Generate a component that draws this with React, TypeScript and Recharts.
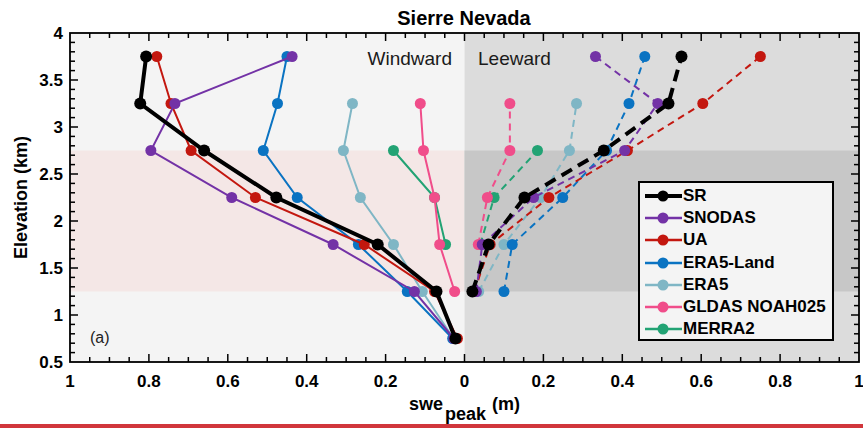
import React from 'react'
import { ScatterChart, Scatter, XAxis, YAxis, ReferenceArea, Legend, Label } from 'recharts'

const FONT = '"Liberation Sans", Arial, Helvetica, sans-serif'

// elevation bands (km), bottom to top
const ELEV = [0.75, 1.25, 1.75, 2.25, 2.75, 3.25, 3.75]

// windward peak SWE (m)
const windSR = [0.023, 0.071, 0.22, 0.477, 0.66, 0.822, 0.807]
const windSNODAS = [0.027, 0.127, 0.333, 0.59, 0.795, 0.734, 0.437]
const windUA = [0.018, 0.076, 0.254, 0.53, 0.693, 0.744, 0.78]
const windERA5Land = [0.03, 0.145, 0.269, 0.424, 0.51, 0.474, 0.45]
const windERA5 = [0.028, 0.107, 0.18, 0.264, 0.307, 0.284, null]
const windGLDAS = [null, 0.025, 0.063, 0.076, 0.104, 0.112, null]
const windMERRA2 = [null, null, 0.048, 0.076, 0.18, null, null]

// leeward peak SWE (m)
const leeSR = [null, 0.02, 0.061, 0.152, 0.353, 0.517, 0.55]
const leeSNODAS = [null, 0.03, 0.045, 0.175, 0.406, 0.49, 0.332]
const leeUA = [null, 0.025, 0.065, 0.214, 0.413, 0.604, 0.75]
const leeERA5Land = [null, 0.1, 0.121, 0.249, 0.36, 0.417, 0.457]
const leeERA5 = [null, 0.036, 0.1, 0.193, 0.266, 0.284, null]
const leeGLDAS = [null, null, 0.035, 0.058, 0.115, 0.115, null]
const leeMERRA2 = [null, null, 0.04, 0.075, 0.185, null, null]

// tick labels (x is distance from the divide on both sides)
const X_LABELS = [-1, -0.8, -0.6, -0.4, -0.2, 0, 0.2, 0.4, 0.6, 0.8, 1]
const Y_LABELS = [0.5, 1, 1.5, 2, 2.5, 3, 3.5, 4]
// inward tick marks every 0.05 m / 0.1 km
const X_TICKS = Array.from({ length: 39 }, (_, i) => Math.round((-0.95 + i * 0.05) * 100) / 100)
const Y_TICKS = Array.from({ length: 34 }, (_, i) => Math.round((0.6 + i * 0.1) * 10) / 10)

const series = [
  { name: 'SR', color: '#000000', wind: windSR, lee: leeSR, w: 4, dash: '12 7', r: 6 },
  { name: 'SNODAS', color: '#7332a6', wind: windSNODAS, lee: leeSNODAS, w: 2, dash: '7 5', r: 5.5 },
  { name: 'UA', color: '#c3170f', wind: windUA, lee: leeUA, w: 2, dash: '7 5', r: 5.5 },
  { name: 'ERA5-Land', color: '#0a73c2', wind: windERA5Land, lee: leeERA5Land, w: 2, dash: '7 5', r: 5.5 },
  { name: 'ERA5', color: '#7fb6c5', wind: windERA5, lee: leeERA5, w: 2, dash: '7 5', r: 5.5 },
  { name: 'GLDAS NOAH025', color: '#f04d8a', wind: windGLDAS, lee: leeGLDAS, w: 2, dash: '7 5', r: 5.5 },
  { name: 'MERRA2', color: '#22a374', wind: windMERRA2, lee: leeMERRA2, w: 2, dash: '7 5', r: 5.5 }
]

// background panels: windward / leeward, with the 1.25-2.75 km band shaded
const panels = [
  { x1: -1, x2: 0, y1: 0.5, y2: 4, fill: '#f4f4f4' },
  { x1: -1, x2: 0, y1: 1.25, y2: 2.75, fill: '#f4e7e6' },
  { x1: 0, x2: 1, y1: 0.5, y2: 4, fill: '#dcdcdc' },
  { x1: 0, x2: 1, y1: 1.25, y2: 2.75, fill: '#c7c7c7' }
]

const toPoints = (vals: (number | null)[], sign: number) =>
  vals
    .map((v, i) => (v == null ? null : { x: sign * v, y: ELEV[i] }))
    .filter((p) => p !== null) as { x: number; y: number }[]

const fmtX = (v: number) => String(Math.abs(Math.round(v * 10) / 10))
const isMajorX = (v: number) => Math.abs(v * 5 - Math.round(v * 5)) < 1e-6
const isMajorY = (v: number) => Math.abs(v * 2 - Math.round(v * 2)) < 1e-6

// plot box (chart margins + axis sizes) for the frame overlay
const W = 863
const H = 424
const MARGIN = { top: 33, right: 4, bottom: 0, left: 0 }
const Y_AXIS_W = 70
const X_AXIS_H = 62
const PL = MARGIN.left + Y_AXIS_W
const PT = MARGIN.top
const PR = W - MARGIN.right
const PB = H - MARGIN.bottom - X_AXIS_H
const px = (x: number) => PL + ((x + 1) / 2) * (PR - PL)
const py = (y: number) => PT + ((4 - y) / 3.5) * (PB - PT)
const MAJ = 8
const MIN = 5

const XLabel = (props: any) => {
  const vb = props.viewBox || { x: 70, y: 362, width: 789 }
  const cx = vb.x + vb.width / 2
  return (
    <text x={cx} y={vb.y + 48} textAnchor='middle' fontFamily={FONT} fontSize={18} fontWeight={700} fill='#000'>
      swe
      <tspan dx={2} dy={10}>peak</tspan>
      <tspan dx={6} dy={-10}>(m)</tspan>
    </text>
  )
}

const YLabel = (props: any) => {
  const vb = props.viewBox || { x: 0, y: 33, height: 329 }
  const cy = vb.y + vb.height / 2
  return (
    <text
      x={27}
      y={cy}
      transform={`rotate(-90, 27, ${cy})`}
      textAnchor='middle'
      fontFamily={FONT}
      fontSize={18}
      fontWeight={700}
      fill='#000'
    >
      Elevation (km)
    </text>
  )
}

function LegendBox() {
  return (
    <div
      style={{
        position: 'relative',
        width: 196,
        height: 160,
        boxSizing: 'border-box',
        border: '2px solid #000',
        background: '#f4f4f4',
        fontFamily: FONT
      }}
    >
      {series.map((s, i) => (
        <div key={s.name} style={{ position: 'absolute', left: 3, top: 2 + i * 22.2, height: 22, display: 'flex', alignItems: 'center' }}>
          <svg width={40} height={22}>
            <line x1={2} x2={39} y1={11} y2={11} stroke={s.color} strokeWidth={s.w === 4 ? 4 : 2.5} />
            <circle cx={20} cy={11} r={5.5} fill={s.color} />
          </svg>
          <span style={{ fontSize: 17, fontWeight: 700, color: '#000', lineHeight: '22px' }}>{s.name}</span>
        </div>
      ))}
    </div>
  )
}

const tickStyle = { fill: '#000', fontSize: 17, fontWeight: 700, fontFamily: FONT }

export default function App() {
  const drawOrder = [...series].reverse()
  return (
    <div style={{ position: 'absolute', left: 0, top: 0, width: 863, height: 428, background: '#fff' }}>
      <ScatterChart width={W} height={H} margin={MARGIN}>
        {panels.map((p, i) => (
          <ReferenceArea key={'p' + i} x1={p.x1} x2={p.x2} y1={p.y1} y2={p.y2} fill={p.fill} fillOpacity={1} />
        ))}

        <XAxis
          type='number'
          dataKey='x'
          domain={[-1, 1]}
          ticks={X_LABELS}
          interval={0}
          tickFormatter={fmtX}
          tickLine={false}
          tickSize={0}
          tickMargin={13}
          height={X_AXIS_H}
          allowDataOverflow
          axisLine={false}
          tick={tickStyle}
        >
          <Label content={XLabel} />
        </XAxis>
        <YAxis
          type='number'
          dataKey='y'
          domain={[0.5, 4]}
          ticks={Y_LABELS}
          interval={0}
          tickLine={false}
          tickSize={0}
          tickMargin={7}
          width={Y_AXIS_W}
          allowDataOverflow
          axisLine={false}
          tick={tickStyle}
        >
          <Label content={YLabel} />
        </YAxis>

        {drawOrder.map((s) => (
          <Scatter
            key={s.name + '-w'}
            name={s.name}
            data={toPoints(s.wind, -1)}
            line={{ stroke: s.color, strokeWidth: s.w }}
            lineType='joint'
            isAnimationActive={false}
            legendType='none'
            shape={(p: any) => <circle cx={p.cx} cy={p.cy} r={s.r} fill={s.color} />}
          />
        ))}
        {drawOrder.map((s) => (
          <Scatter
            key={s.name + '-l'}
            name={s.name + ' leeward'}
            data={toPoints(s.lee, 1)}
            line={{ stroke: s.color, strokeWidth: s.w, strokeDasharray: s.dash }}
            lineType='joint'
            isAnimationActive={false}
            legendType='none'
            shape={(p: any) => <circle cx={p.cx} cy={p.cy} r={s.r} fill={s.color} />}
          />
        ))}

        <Legend
          layout='vertical'
          align='center'
          verticalAlign='middle'
          content={() => <LegendBox />}
          wrapperStyle={{ left: 638, top: 181, width: 196, height: 160 }}
        />
      </ScatterChart>

      <svg width={863} height={428} style={{ position: 'absolute', left: 0, top: 0, pointerEvents: 'none' }}>
        {/* axes box with inward ticks */}
        <rect x={PL} y={PT} width={PR - PL} height={PB - PT} fill='none' stroke='#000' strokeWidth={1.8} />
        {X_TICKS.map((v) => {
          const len = isMajorX(v) ? MAJ : MIN
          const x = px(v)
          return (
            <g key={'xt' + v}>
              <path d={`M${x},${PB}V${PB - len}`} stroke='#000' strokeWidth={1.5} />
              <path d={`M${x},${PT}V${PT + len}`} stroke='#000' strokeWidth={1.5} />
            </g>
          )
        })}
        {Y_TICKS.map((v) => {
          const len = isMajorY(v) ? MAJ : MIN
          const y = py(v)
          return (
            <g key={'yt' + v}>
              <path d={`M${PL},${y}H${PL + len}`} stroke='#000' strokeWidth={1.5} />
              <path d={`M${PR},${y}H${PR - len}`} stroke='#000' strokeWidth={1.5} />
            </g>
          )
        })}

        <text x={464} y={25} textAnchor='middle' fontFamily={FONT} fontSize={20} fontWeight={700} fill='#000'>
          Sierre Nevada
        </text>
        <text x={452} y={65} textAnchor='end' fontFamily={FONT} fontSize={19} fill='#1a1a1a'>
          Windward
        </text>
        <text x={478} y={65} textAnchor='start' fontFamily={FONT} fontSize={19} fill='#1a1a1a'>
          Leeward
        </text>
        <text x={90} y={343} fontFamily={FONT} fontSize={16} fill='#222'>
          (a)
        </text>
      </svg>
      <div style={{ position: 'absolute', left: 0, top: 424, width: 863, height: 4, background: '#d1363c' }} />
    </div>
  )
}
